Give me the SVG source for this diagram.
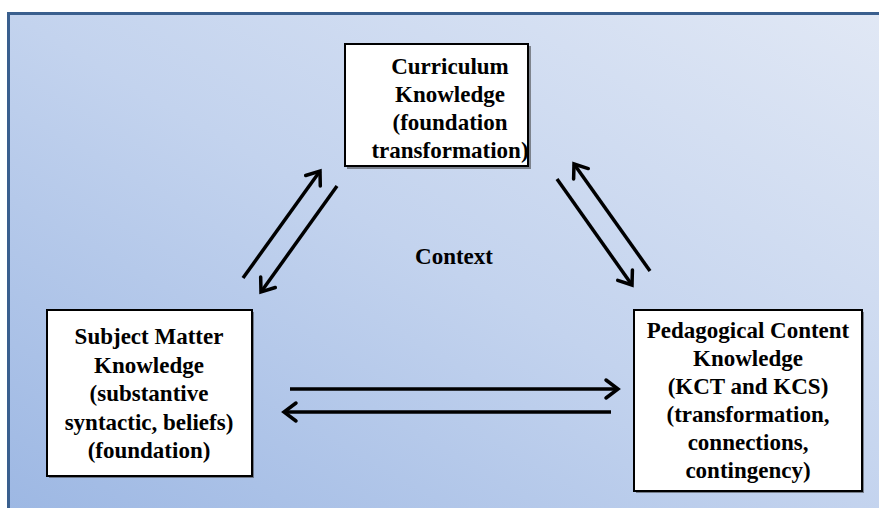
<svg xmlns="http://www.w3.org/2000/svg" width="879" height="508" viewBox="0 0 879 508">
  <defs>
    <linearGradient id="bg" x1="0" y1="1" x2="1" y2="0">
      <stop offset="0" stop-color="#9cb7e3"/>
      <stop offset="0.5" stop-color="#c3d3ee"/>
      <stop offset="1" stop-color="#e1e8f5"/>
    </linearGradient>
    <marker id="head" markerUnits="userSpaceOnUse" markerWidth="30" markerHeight="30" viewBox="-20 -15 30 30" refX="0" refY="0" orient="auto">
      <path d="M-12,-9 L0,0 L-12,9" fill="none" stroke="#000" stroke-width="3.5" stroke-linejoin="miter" stroke-linecap="round"/>
    </marker>
    <style>
      .box { fill: #ffffff; stroke: #000; stroke-width: 2; }
      .shadow { fill: #3a3a3a; opacity: 0.55; }
      .t { font-weight: bold; font-size: 23px; fill: #000; text-anchor: middle; }
      .arr { stroke: #000; stroke-width: 3.5; fill: none; marker-end: url(#head); }
    </style>
  </defs>
  <rect x="0" y="0" width="879" height="508" fill="#ffffff"/>
  <rect id="frame" x="8.5" y="13.5" width="880" height="510" fill="url(#bg)" stroke="#3a5f8e" stroke-width="3"/>

  <g id="connectors">
    <line class="arr" x1="243" y1="278" x2="320" y2="171"/>
    <line class="arr" x1="337" y1="186" x2="261" y2="292"/>
    <line class="arr" x1="557" y1="179" x2="632" y2="285"/>
    <line class="arr" x1="650" y1="271" x2="574" y2="164"/>
    <line class="arr" x1="290" y1="389" x2="618" y2="389"/>
    <line class="arr" x1="611" y1="412" x2="284" y2="412"/>
  </g>

  <g font-family="'Liberation Serif', 'Times New Roman', Tinos, 'DejaVu Serif', serif">
  <g id="curriculum">
    <rect class="shadow" x="347" y="46" width="184" height="123"/>
    <rect class="box" x="345" y="44" width="183" height="122"/>
    <text class="t" x="450" y="74">Curriculum</text>
    <text class="t" x="450" y="102">Knowledge</text>
    <text class="t" x="450" y="130">(foundation</text>
    <text class="t" x="450" y="158">transformation)</text>
  </g>

  <g id="subject">
    <rect class="shadow" x="49" y="312" width="205" height="166"/>
    <rect class="box" x="47" y="310" width="205" height="166"/>
    <text class="t" x="149" y="344">Subject Matter</text>
    <text class="t" x="149" y="372.5">Knowledge</text>
    <text class="t" x="149" y="401">(substantive</text>
    <text class="t" x="149" y="429.5">syntactic, beliefs)</text>
    <text class="t" x="149" y="458">(foundation)</text>
  </g>

  <g id="pck">
    <rect class="shadow" x="636" y="312" width="228" height="181"/>
    <rect class="box" x="634" y="310" width="228" height="181"/>
    <text class="t" x="748" y="338">Pedagogical Content</text>
    <text class="t" x="748" y="366">Knowledge</text>
    <text class="t" x="748" y="394">(KCT and KCS)</text>
    <text class="t" x="748" y="422">(transformation,</text>
    <text class="t" x="748" y="450">connections,</text>
    <text class="t" x="748" y="478">contingency)</text>
  </g>

  <g id="context">
    <text class="t" x="454" y="264">Context</text>
  </g>
  </g>
</svg>
